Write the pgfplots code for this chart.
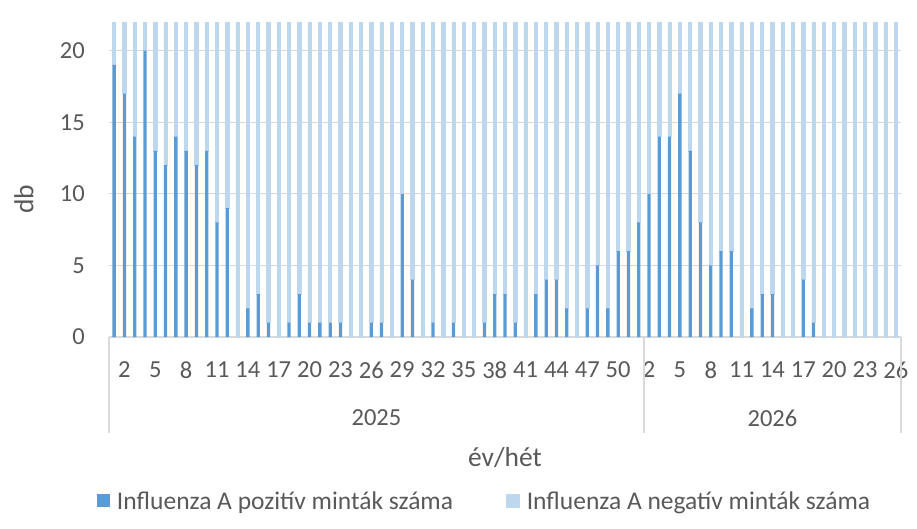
\documentclass[border=0pt]{standalone}
\usepackage{fontspec}
\setmainfont{Carlito}
\usepackage{pgfplots}
\usepackage{pgfplotstable}
\pgfplotsset{compat=1.18}
\definecolor{posc}{HTML}{5B9BD5}
\definecolor{negc}{HTML}{BDD7EE}
\definecolor{gridc}{HTML}{D9D9D9}
\definecolor{txtc}{HTML}{595959}

\pgfplotstableread{
x pos neg
1 19 38
2 17 41
3 14 45
4 20 39
5 13 44
6 12 40
7 14 37
8 13 42
9 12 39
10 13 36
11 8 40
12 9 35
13 0 33
14 2 31
15 3 30
16 1 28
17 0 27
18 1 29
19 3 26
20 1 28
21 1 25
22 1 27
23 1 26
24 0 25
25 0 24
26 1 26
27 1 25
28 0 27
29 10 26
30 4 28
31 0 27
32 1 29
33 0 28
34 1 30
35 0 29
36 0 31
37 1 30
38 3 32
39 3 31
40 1 33
41 0 34
42 3 33
43 4 35
44 4 36
45 2 34
46 0 37
47 2 36
48 5 38
49 2 37
50 6 40
51 6 39
52 8 42
53 10 41
54 14 44
55 14 40
56 17 43
57 13 39
58 8 41
59 5 38
60 6 40
61 6 36
62 0 37
63 2 35
64 3 36
65 3 34
66 0 33
67 0 35
68 4 32
69 1 33
70 0 31
71 0 30
72 0 32
73 0 29
74 0 30
75 0 28
76 0 29
77 0 27
}\data

\newcommand{\tickfont}{\fontsize{24.5}{29}\selectfont}
\newcommand{\titlefont}{\fontsize{27.5}{33}\selectfont}

\begin{document}
\begin{tikzpicture}
\path[use as bounding box] (0,0) rectangle (917pt,528pt);
\begin{axis}[
  at={(109pt,191pt)}, anchor=south west,
  scale only axis, width=792pt, height=315pt,
  ybar stacked, bar width=0.32,
  xmin=0.5, xmax=77.5, ymin=0, ymax=22,
  ytick={0,5,10,15,20},
  xtick={2,5,...,77},
  xticklabels={2,5,8,11,14,17,20,23,26,29,32,35,38,41,44,47,50,2,5,8,11,14,17,20,23,26},
  axis lines*=left,
  x axis line style={-, draw=gridc, line width=1.3pt},
  y axis line style={draw=none},
  ymajorgrids, grid style={gridc, line width=1.3pt},
  tick style={draw=none}, major tick length=0pt,
  tick label style={font=\tickfont, text=txtc},
  /pgf/number format/assume math mode=true,
  xticklabel style={anchor=north, inner sep=0pt, yshift=-24.5pt},
  yticklabel style={anchor=east, inner sep=0pt, xshift=-24pt},
  legend columns=2,
  legend style={at={(-0.01515,-0.5206)}, anchor=west, draw=none, fill=none,
    inner sep=0pt, outer sep=0pt, font=\fontsize{25.5}{30}\selectfont, text=txtc,
    nodes={inner sep=0pt},
    /tikz/every odd column/.append style={column sep=7pt},
    /tikz/every even column/.append style={column sep=53pt}},
]
\addplot[fill=posc, draw=none,
  legend image code/.code={\fill[posc] (0pt,-6.5pt) rectangle (13pt,6.5pt);}]
  table[x=x, y=pos]{\data};
\addlegendentry{Influenza A pozitív minták száma}
\addplot[fill=negc, draw=negc, line width=0.7pt,
  legend image code/.code={\fill[negc] (0pt,-6.5pt) rectangle (13pt,6.5pt);}]
  table[x=x, y=neg]{\data};
\addlegendentry{Influenza A negatív minták száma}
\coordinate (L) at (axis cs:0.5,0);
\coordinate (M) at (axis cs:52.5,0);
\coordinate (R) at (axis cs:77.5,0);
\coordinate (Y1) at (axis cs:26.5,0);
\coordinate (Y2) at (axis cs:65,0);
\end{axis}
\draw[gridc, line width=1.3pt] (L) -- ++(0,-96pt);
\draw[gridc, line width=1.3pt] (M) -- ++(0,-96pt);
\draw[gridc, line width=1.3pt] (R) -- ++(0,-96pt);
\node[font=\tickfont, text=txtc, inner sep=0pt] at ([yshift=-81pt]Y1) {2025};
\node[font=\tickfont, text=txtc, inner sep=0pt] at ([yshift=-81pt]Y2) {2026};
\node[font=\titlefont, text=txtc, inner sep=0pt, anchor=base] at (505pt,62pt) {év/hét};
\node[font=\titlefont, text=txtc, inner sep=0pt, rotate=90] at (24pt,329pt) {db};
\end{tikzpicture}
\end{document}
